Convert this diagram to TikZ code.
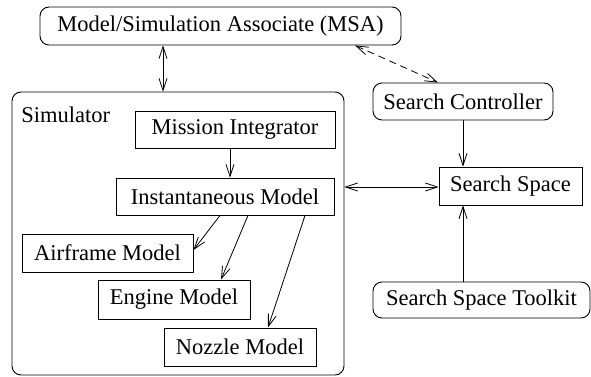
\documentclass[tikz,border=0pt]{standalone}
\usepackage{fontspec}
\setmainfont{Liberation Serif}
\newfontfamily\tms{Liberation Serif}
\usetikzlibrary{arrows.meta}
\begin{document}
\begin{tikzpicture}[x=1pt,y=-1pt,
  every node/.style={font=\tms\fontsize{22.5}{26}\selectfont, inner sep=0pt, line width=0.9pt},
  sqbox/.style={draw, rectangle},
  rndbox/.style={draw, rectangle, rounded corners=9pt},
  arr/.style={line width=0.8pt, -{Straight Barb[length=12pt,width=8pt]}},
  darr/.style={line width=0.8pt, {Straight Barb[length=12pt,width=8pt]}-{Straight Barb[length=12pt,width=8pt]}}
]
\useasboundingbox (0,0) rectangle (591,377);
\node[rndbox, minimum width=361pt, minimum height=38pt] (msa) at (220.5,26) {Model/Simulation Associate (MSA)};
\node[rndbox, minimum width=332pt, minimum height=283pt] (sim) at (178,233.5) {};
\node[anchor=west] (simlabel) at (21,115) {Simulator};
\node[sqbox, minimum width=200pt, minimum height=37pt] (mi) at (235,129.5) {Mission Integrator};
\node[sqbox, minimum width=218pt, minimum height=37pt] (inst) at (225,196.5) {Instantaneous Model};
\node[sqbox, minimum width=171pt, minimum height=38pt] (air) at (107.5,253) {Airframe Model};
\node[sqbox, minimum width=152pt, minimum height=39pt] (eng) at (174,299.5) {Engine Model};
\node[sqbox, minimum width=152pt, minimum height=38pt] (noz) at (240,347) {Nozzle Model};
\node[rndbox, minimum width=180pt, minimum height=37pt] (sc) at (463,101.5) {Search Controller};
\node[sqbox, minimum width=143pt, minimum height=38pt] (ss) at (510.5,186) {Search Space};
\node[rndbox, minimum width=217pt, minimum height=36pt] (sst) at (481.5,300) {Search Space Toolkit};
\coordinate (c1) at (163,0);
\coordinate (c2) at (355,0);
\coordinate (c3) at (438,0);
\coordinate (c4) at (0,187);
\coordinate (a1) at (220,0);
\coordinate (a2) at (248,0);
\coordinate (a3) at (305,0);
\coordinate (t1) at (0,250);
\coordinate (t2) at (221,0);
\coordinate (t3) at (268,0);
\draw[darr] (msa.south -| c1) -- (sim.north -| c1);
\draw[darr, dashed, dash pattern=on 7pt off 5pt] (msa.south -| c2) -- (sc.north -| c3);
\draw[arr] (mi.south -| 230,0) -- (inst.north -| 230,0);
\draw[arr] (sc.south) -- (sc.south |- ss.north);
\draw[darr] (sim.east |- c4) -- (ss.west |- c4);
\draw[arr] (sst.north -| sc.south) -- (ss.south -| sc.south);
\draw[arr] (inst.south -| a1) -- (air.east |- t1);
\draw[arr] (inst.south -| a2) -- (eng.north -| t2);
\draw[arr] (inst.south -| a3) -- (noz.north -| t3);
\end{tikzpicture}
\end{document}
